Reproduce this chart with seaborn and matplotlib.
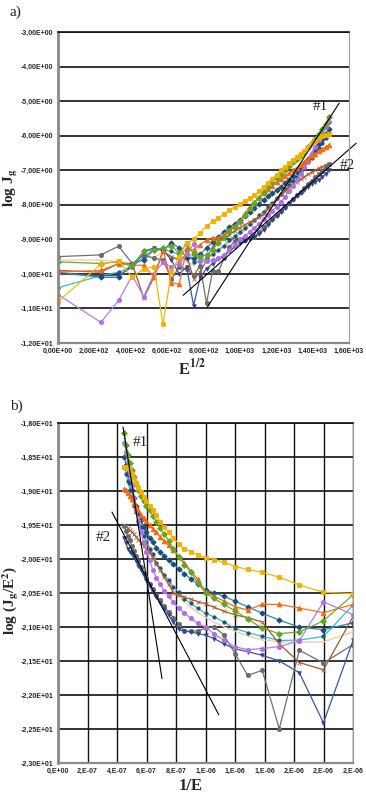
import numpy as np
import pandas as pd
import matplotlib
matplotlib.use("Agg")
import matplotlib.pyplot as plt
import seaborn as sns

# applied field E (kV/m) at every measurement step
E_KV = [0.0, 55.6, 111.1, 166.7, 222.2, 277.8, 333.3, 388.9, 444.4, 500.0,
        555.6, 611.1, 666.7, 722.2, 777.8, 833.3, 888.9, 944.4, 1000.0, 1055.6,
        1111.1, 1166.7, 1222.2, 1277.8, 1333.3, 1388.9, 1444.4, 1500.0, 1555.6, 1611.1,
        1666.7, 1722.2, 1777.8, 1833.3, 1888.9, 1944.4, 2000.0, 2055.6, 2111.1, 2166.7,
        2222.2]

LOGJ_YELLOW = [-10.8, -9.72, -9.62, -10.1, -9.85, -9.8, -11.45, -9.95, -9.5,
               -9.11, -9.00, -8.81, -8.62, -8.48, -8.37, -8.27, -8.15, -8.06, -7.98,
               -7.89, -7.80, -7.72, -7.60, -7.48, -7.36, -7.24, -7.13, -7.00, -6.90,
               -6.80, -6.70, -6.61, -6.52, -6.43, -6.33, -6.24, -6.15, -6.07, -6.02,
               -5.98, -5.96]
LOGJ_GREEN = [-9.65, -9.7, -9.65, -9.75, -9.35, -9.3, -9.25, -9.2, -9.4,
              -9.13, -9.42, -9.5, -9.45, -9.3, -9.1, -8.92, -8.77, -8.63, -8.5,
              -8.3, -8.1, -7.95, -7.8, -7.64, -7.48, -7.35, -7.22, -7.1, -6.98,
              -6.87, -6.77, -6.67, -6.57, -6.46, -6.34, -6.22, -6.09, -5.96, -5.82,
              -5.65, -5.45]
LOGJ_ORANGE = [-9.95, -9.9, -9.7, -9.75, -9.75, -10.1, -9.3, -10.25, -10.3,
               -9.27, -9.30, -9.15, -9.02, -8.95, -8.97, -8.86, -8.72, -8.60, -8.48,
               -8.25, -8.08, -7.92, -7.78, -7.65, -7.55, -7.45, -7.35, -7.25, -7.17,
               -7.08, -7.00, -6.93, -6.85, -6.76, -6.68, -6.60, -6.52, -6.45, -6.38,
               -6.32, -6.27]
LOGJ_DARKBLUE = [-9.95, -10.1, -10.1, -9.7, -9.6, -9.3, -9.3, -9.1, -9.25,
                 -9.54, -9.55, -9.43, -9.25, -9.08, -8.92, -8.78, -8.65, -8.55, -8.45,
                 -8.32, -8.2, -8.08, -7.97, -7.86, -7.76, -7.67, -7.58, -7.48, -7.37,
                 -7.27, -7.16, -7.05, -6.93, -6.80, -6.67, -6.53, -6.39, -6.25, -6.10,
                 -5.95, -5.80]
LOGJ_TEAL = [-10.4, -10.05, -9.95, -9.8, -9.5, -9.3, -9.3, -9.35, -9.45,
             -9.28, -9.65, -9.62, -9.55, -9.42, -9.3, -9.18, -9.03, -8.9, -8.8,
             -8.68, -8.56, -8.45, -8.31, -8.2, -8.06, -7.95, -7.81, -7.7, -7.55,
             -7.44, -7.3, -7.19, -7.03, -6.91, -6.76, -6.64, -6.48, -6.36, -6.2,
             -6.08, -5.95]
LOGJ_VIOLET = [-10.6, -11.4, -10.77, -10.05, -10.66, -10.0, -9.67, -9.8, -9.7,
               -9.42, -9.14, -9.63, -9.64, -9.6, -9.55, -9.45, -9.3, -9.15, -9.0,
               -8.9, -8.78, -8.66, -8.55, -8.42, -8.3, -8.18, -8.05, -7.92, -7.78,
               -7.6, -7.45, -7.28, -7.1, -6.92, -6.72, -6.52, -6.32, -6.12, -5.93,
               -5.75, -5.6]
LOGJ_TAN = [-9.6, -9.6, -9.65, -9.7, -9.55, -9.5, -9.4, -9.5, -9.6,
            -9.67, -9.73, -9.65, -9.57, -9.47, -9.35, -9.22, -9.1, -8.98, -8.86,
            -8.74, -8.62, -8.5, -8.38, -8.25, -8.12, -7.98, -7.84, -7.7, -7.55,
            -7.4, -7.25, -7.1, -6.95, -6.8, -6.64, -6.48, -6.32, -6.17, -6.02,
            -5.9, -5.8]
LOGJ_BROWN = [-9.9, -9.95, -9.7, -9.7, -10.7, -10.1, -9.35, -9.5, -9.6,
              -9.45, -10.14, -9.95, -9.6, -9.21, -9.08, -8.98, -8.87, -8.76, -8.66,
              -8.58, -8.5, -8.43, -8.36, -8.28, -8.12, -7.98, -7.84, -7.72, -7.6,
              -7.49, -7.41, -7.33, -7.26, -7.19, -7.12, -7.06, -7.0, -6.95, -6.9,
              -6.85, -6.81]
LOGJ_GRAY = [-9.5, -9.45, -9.2, -9.7, -9.45, -9.55, -9.6, -10.15, -9.8,
             -9.86, -10.04, -9.77, -10.85, -9.92, -9.93, -9.55, -9.22, -9.05, -9.02,
             -9.01, -8.97, -8.93, -8.78, -8.65, -8.53, -8.41, -8.29, -8.17, -8.06,
             -7.95, -7.84, -7.73, -7.62, -7.51, -7.4, -7.3, -7.2, -7.1, -7.02,
             -6.92, -6.82]
LOGJ_BLUE = [-10.0, -10.05, -10.05, -9.8, -9.35, -9.25, -9.3, -9.6, -10.0,
             -9.8, -10.92, -10.1, -9.85, -9.7, -9.58, -9.48, -9.35, -9.22, -9.12,
             -9.05, -8.98, -8.93, -8.86, -8.72, -8.58, -8.45, -8.33, -8.21, -8.1,
             -7.98, -7.87, -7.76, -7.66, -7.57, -7.48, -7.4, -7.33, -7.27, -7.2,
             -7.1, -7.0]

# straight-line fits #1 and #2 (end points)
FIT1_A_X = [820, 1546]
FIT1_A_Y = [-10.97, -5.06]
FIT2_A_X = [688, 1639]
FIT2_A_Y = [-10.62, -6.22]
FIT1_B_X = [4.41e-7, 7.05e-7]
FIT1_B_Y = [-18.06, -21.76]
FIT2_B_X = [3.66e-7, 1.09e-6]
FIT2_B_Y = [-19.31, -22.29]

# tick positions and labels
A_XTICKS = [0, 200, 400, 600, 800, 1000, 1200, 1400, 1600]
A_XLABELS = ["0,00E+00", "2,00E+02", "4,00E+02", "6,00E+02", "8,00E+02",
             "1,00E+03", "1,20E+03", "1,40E+03", "1,60E+03"]
A_YTICKS = [-12, -11, -10, -9, -8, -7, -6, -5, -4, -3]
A_YLABELS = ["-1,20E+01", "-1,10E+01", "-1,00E+01", "-9,00E+00", "-8,00E+00",
             "-7,00E+00", "-6,00E+00", "-5,00E+00", "-4,00E+00", "-3,00E+00"]
B_XTICKS = [0, 2e-7, 4e-7, 6e-7, 8e-7, 1e-6, 1.2e-6, 1.4e-6, 1.6e-6, 1.8e-6, 2e-6]
B_XLABELS = ["0,E+00", "2,E-07", "4,E-07", "6,E-07", "8,E-07", "1,E-06",
             "1,E-06", "1,E-06", "2,E-06", "2,E-06", "2,E-06"]
B_YTICKS = [-23, -22.5, -22, -21.5, -21, -20.5, -20, -19.5, -19, -18.5, -18]
B_YLABELS = ["-2,30E+01", "-2,25E+01", "-2,20E+01", "-2,15E+01", "-2,10E+01",
             "-2,05E+01", "-2,00E+01", "-1,95E+01", "-1,90E+01", "-1,85E+01",
             "-1,80E+01"]

RUNS = {
    "yellow": LOGJ_YELLOW, "green": LOGJ_GREEN, "orange": LOGJ_ORANGE,
    "darkblue": LOGJ_DARKBLUE, "teal": LOGJ_TEAL, "violet": LOGJ_VIOLET,
    "tan": LOGJ_TAN, "brown": LOGJ_BROWN, "gray": LOGJ_GRAY, "blue": LOGJ_BLUE,
}
# line colour, marker, marker colour, marker size (drawn back to front)
STYLE = {
    "tan": ("#EFC9A2", "o", "#EFC9A2", 0.5),
    "teal": ("#37BCC8", "o", "#1F4F78", 2.4),
    "brown": ("#A5552A", "x", "#B0602E", 3.0),
    "gray": ("#707070", "o", "#6A6A6A", 3.0),
    "blue": ("#3A55A8", "v", "#2E4792", 2.6),
    "darkblue": ("#2E86B2", "D", "#1C4C7C", 2.7),
    "violet": ("#B57BE6", "o", "#B06EEA", 3.0),
    "orange": ("#F2701E", "^", "#F26A10", 3.4),
    "green": ("#6DAB2A", "D", "#66A524", 3.0),
    "yellow": ("#F2B705", "s", "#F2B000", 3.4),
}

E = np.array(E_KV) * 1e3
rows = []
for name, logj in RUNS.items():
    for e, lj in zip(E, logj):
        rows.append({"run": name, "E": e, "logJ": lj})
df = pd.DataFrame(rows)
df["sqrtE"] = np.sqrt(df["E"])
dfb = df[df["E"] >= 4.99e5].copy()
dfb["invE"] = 1.0 / dfb["E"]
dfb["logJE2"] = dfb["logJ"] - 2 * np.log10(dfb["E"])

sns.set_style("white")
plt.rcParams["mathtext.fontset"] = "stix"
tick_font = {"family": "Liberation Sans", "weight": "bold", "size": 5}
serif = "Liberation Serif"

fig = plt.figure(figsize=(3.66, 7.96), dpi=100)
W, H = 366, 796
ax_a = fig.add_axes([58 / W, 1 - 343 / H, 291 / W, 311 / H])
ax_b = fig.add_axes([58 / W, 1 - 763 / H, 295 / W, 340 / H])


def draw_runs(ax, data, xcol, ycol):
    for name in STYLE:
        lc, mk, mc, ms = STYLE[name]
        sub = data[data["run"] == name]
        sns.lineplot(data=sub, x=xcol, y=ycol, ax=ax, color=lc, linewidth=0.9,
                     marker=mk, markersize=ms, markerfacecolor=mc,
                     markeredgecolor=mc, markeredgewidth=0.6,
                     sort=False, errorbar=None, legend=False)


def style_axes(ax, xticks, xlabels, yticks, ylabels, xgrid):
    ax.set_xticks(xticks)
    ax.set_xticklabels(xlabels, fontdict=tick_font)
    ax.set_yticks(yticks)
    ax.set_yticklabels(ylabels, fontdict=tick_font)
    ax.set_xlabel("")
    ax.set_ylabel("")
    ax.grid(axis="y", color="#111111", linewidth=1.2)
    if xgrid:
        ax.grid(axis="x", color="#111111", linewidth=1.0)
    ax.set_axisbelow(True)
    ax.tick_params(axis="both", length=2, width=0.8, color="#808080", pad=1.5)
    ax.spines["left"].set_color("#8A8A8A")
    ax.spines["left"].set_linewidth(2.0)
    ax.spines["bottom"].set_color("#8A8A8A")
    ax.spines["bottom"].set_linewidth(1.6)
    ax.spines["right"].set_color("#9A9A9A")
    ax.spines["right"].set_linewidth(0.8)
    ax.spines["top"].set_color("#111111")
    ax.spines["top"].set_linewidth(1.2)


# panel a: log J vs E^1/2
draw_runs(ax_a, df, "sqrtE", "logJ")
sns.lineplot(x=FIT1_A_X, y=FIT1_A_Y, ax=ax_a, color="black", linewidth=0.8)
fit2 = sns.lineplot(x=FIT2_A_X, y=FIT2_A_Y, ax=ax_a, color="black", linewidth=0.8)
fit2.lines[-1].set_clip_on(False)
ax_a.set_xlim(0, 1600)
ax_a.set_ylim(-12, -3)
style_axes(ax_a, A_XTICKS, A_XLABELS, A_YTICKS, A_YLABELS, xgrid=False)
ax_a.text(1441, -5.17, "#1", family=serif, fontsize=11, ha="center", va="center")
ax_a.text(1590, -6.86, "#2", family=serif, fontsize=11, ha="center", va="center",
          clip_on=False)

# panel b: Fowler-Nordheim coordinates
draw_runs(ax_b, dfb, "invE", "logJE2")
sns.lineplot(x=FIT1_B_X, y=FIT1_B_Y, ax=ax_b, color="black", linewidth=0.8)
sns.lineplot(x=FIT2_B_X, y=FIT2_B_Y, ax=ax_b, color="black", linewidth=0.8)
ax_b.set_xlim(0, 2e-6)
ax_b.set_ylim(-23, -18)
style_axes(ax_b, B_XTICKS, B_XLABELS, B_YTICKS, B_YLABELS, xgrid=True)
ax_b.text(5.6e-7, -18.28, "#1", family=serif, fontsize=11, ha="center", va="center")
ax_b.text(3.05e-7, -19.69, "#2", family=serif, fontsize=11, ha="center", va="center")

# panel letters and axis titles
fig.text(10 / W, 1 - 12 / H, "a)", family=serif, fontsize=11, va="center")
fig.text(10 / W, 1 - 406 / H, "b)", family=serif, fontsize=11, va="center")
fig.text(192 / W, 1 - 368 / H, r"E$^{\mathbf{1/2}}$", family=serif, weight="bold",
         fontsize=12, ha="center", va="center")
fig.text(11 / W, 1 - 188 / H, r"log J$_{\mathbf{g}}$", family=serif, weight="bold",
         fontsize=11, ha="center", va="center", rotation=90)
fig.text(191 / W, 1 - 786 / H, "1/E", family=serif, weight="bold",
         fontsize=12, ha="center", va="center")
fig.text(11 / W, 1 - 600 / H, r"log (J$_{\mathbf{g}}$/E$^{\mathbf{2}}$)", family=serif,
         weight="bold", fontsize=11, ha="center", va="center", rotation=90)

fig.savefig("out.png", dpi=100)
